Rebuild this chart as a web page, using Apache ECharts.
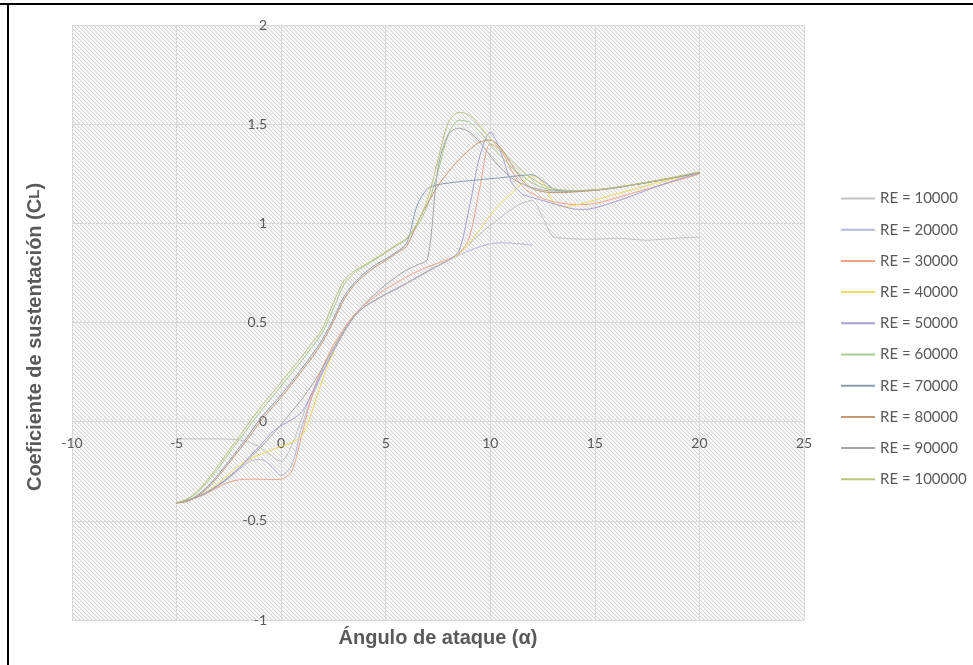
<!DOCTYPE html>
<html><head><meta charset="utf-8">
<script src="https://cdn.jsdelivr.net/npm/echarts@6/dist/echarts.min.js"></script>
<style>html,body{margin:0;padding:0;background:#fff}#c{width:973px;height:665px}</style>
</head><body><div id="c"></div>
<script>
// ---- data ----
const alpha = [-5,-4.5,-4,-3.5,-3,-2.5,-2,-1.5,-1,-0.5,0,0.5,1,1.5,2,2.5,3,3.5,4,4.5,5,5.5,6,6.5,7,7.5,8,8.5,9,9.5,10,10.5,11,11.5,12,12.5,13,13.5,14,14.5,15,15.5,16,16.5,17,17.5,18,18.5,19,19.5,20];
const xTicks = [-10,-5,0,5,10,15,20,25];
const yTicks = [-1,-0.5,0,0.5,1,1.5,2];
const seriesNames = ['RE = 10000','RE = 20000','RE = 30000','RE = 40000','RE = 50000','RE = 60000','RE = 70000','RE = 80000','RE = 90000','RE = 100000'];
const seriesColors = ['#c2c2c2','#b6b8de','#f2a488','#eedc62','#a8a0d6','#aacb90','#8c9db2','#c49672','#a6a6a6','#bcc47e'];

const cl10000 = [-0.085,-0.087,-0.087,-0.087,-0.087,-0.088,-0.092,-0.105,-0.13,-0.17,-0.2,-0.12,0.02,0.15,0.27,0.37,0.46,0.535,0.58,0.615,0.645,0.672,0.70,0.73,0.76,0.788,0.815,0.85,0.895,0.945,0.99,1.03,1.07,1.10,1.115,1.03,0.935,0.925,0.922,0.92,0.92,0.922,0.925,0.922,0.918,0.915,0.918,0.922,0.926,0.928,0.93];
const cl20000 = [-0.41,-0.397,-0.38,-0.355,-0.322,-0.283,-0.24,-0.2,-0.19,-0.22,-0.27,-0.22,-0.02,0.13,0.25,0.355,0.45,0.53,0.58,0.612,0.642,0.668,0.697,0.727,0.757,0.786,0.814,0.84,0.862,0.882,0.898,0.902,0.9,0.896,0.89,null,null,null,null,null,null,null,null,null,null,null,null,null,null,null,null];
const cl30000 = [-0.41,-0.4,-0.382,-0.358,-0.33,-0.305,-0.293,-0.29,-0.29,-0.292,-0.29,-0.25,-0.06,0.14,0.28,0.385,0.47,0.54,0.59,0.632,0.668,0.70,0.73,0.757,0.78,0.80,0.82,0.845,0.93,1.18,1.40,1.37,1.27,1.19,1.15,1.125,1.11,1.10,1.095,1.095,1.10,1.112,1.127,1.143,1.158,1.173,1.188,1.203,1.218,1.233,1.248];
const cl40000 = [-0.41,-0.398,-0.378,-0.35,-0.31,-0.265,-0.22,-0.19,-0.165,-0.145,-0.125,-0.105,-0.07,0.06,0.22,0.35,0.45,0.53,0.58,0.612,0.642,0.668,0.697,0.727,0.757,0.786,0.814,0.845,0.9,0.97,1.04,1.1,1.15,1.2,1.24,1.21,1.11,1.085,1.09,1.103,1.118,1.133,1.148,1.162,1.176,1.19,1.204,1.217,1.23,1.243,1.256];
const cl50000 = [-0.41,-0.396,-0.38,-0.355,-0.322,-0.283,-0.235,-0.175,-0.12,-0.06,-0.02,0.01,0.05,0.15,0.255,0.355,0.45,0.53,0.58,0.612,0.642,0.668,0.697,0.727,0.757,0.786,0.814,0.86,1.08,1.34,1.46,1.36,1.21,1.15,1.13,1.115,1.10,1.085,1.072,1.07,1.078,1.093,1.11,1.128,1.148,1.168,1.187,1.205,1.222,1.238,1.252];
const cl60000 = [-0.41,-0.392,-0.355,-0.3,-0.235,-0.16,-0.09,-0.02,0.05,0.115,0.18,0.245,0.31,0.38,0.455,0.57,0.69,0.75,0.785,0.818,0.852,0.886,0.92,0.985,1.09,1.26,1.45,1.52,1.51,1.46,1.40,1.34,1.285,1.24,1.205,1.18,1.168,1.163,1.163,1.165,1.168,1.173,1.18,1.188,1.197,1.206,1.215,1.225,1.235,1.245,1.255];
const cl70000 = [-0.41,-0.4,-0.37,-0.325,-0.265,-0.2,-0.13,-0.06,0.015,0.075,0.135,0.2,0.27,0.34,0.42,0.52,0.63,0.70,0.75,0.79,0.82,0.855,0.9,1.09,1.175,1.195,1.203,1.21,1.215,1.22,1.225,1.23,1.236,1.241,1.245,1.215,1.175,1.163,1.163,1.165,1.168,1.173,1.18,1.188,1.197,1.206,1.215,1.225,1.235,1.245,1.255];
const cl80000 = [-0.41,-0.402,-0.375,-0.333,-0.275,-0.21,-0.142,-0.073,0.0,0.062,0.122,0.188,0.257,0.327,0.405,0.505,0.615,0.69,0.74,0.78,0.812,0.848,0.885,1.0,1.1,1.19,1.26,1.32,1.37,1.41,1.42,1.38,1.3,1.22,1.175,1.16,1.155,1.155,1.158,1.162,1.166,1.172,1.18,1.188,1.197,1.206,1.215,1.225,1.235,1.245,1.255];
const cl90000 = [-0.41,-0.397,-0.378,-0.352,-0.318,-0.278,-0.232,-0.183,-0.132,-0.075,-0.015,0.05,0.115,0.19,0.275,0.37,0.46,0.535,0.595,0.645,0.69,0.73,0.765,0.79,0.82,1.28,1.45,1.48,1.46,1.41,1.34,1.28,1.23,1.2,1.18,1.168,1.163,1.163,1.163,1.165,1.168,1.173,1.18,1.188,1.197,1.206,1.215,1.225,1.235,1.245,1.255];
const cl100000 = [-0.41,-0.39,-0.35,-0.29,-0.22,-0.145,-0.075,0.0,0.07,0.135,0.2,0.265,0.33,0.4,0.475,0.6,0.71,0.76,0.79,0.823,0.857,0.89,0.925,1.0,1.12,1.32,1.51,1.56,1.545,1.49,1.43,1.37,1.315,1.265,1.225,1.195,1.175,1.168,1.166,1.167,1.17,1.175,1.182,1.19,1.199,1.208,1.217,1.227,1.238,1.249,1.26];

const clSeries = [cl10000,cl20000,cl30000,cl40000,cl50000,cl60000,cl70000,cl80000,cl90000,cl100000];

// ---- hatch pattern ----
function makeHatch(){
  const c = document.createElement('canvas'); c.width = 8; c.height = 8;
  const g = c.getContext('2d'); const im = g.createImageData(8,8);
  for (let y=0;y<8;y++) for (let x=0;x<8;x++){
    const m = ((x - y) % 4 + 4) % 4;
    const v = m===0 ? 212 : (m===1 ? 240 : (m===3 ? 249 : 255));
    const i = (y*8+x)*4; im.data[i]=v; im.data[i+1]=v; im.data[i+2]=v; im.data[i+3]=255;
  }
  g.putImageData(im,0,0); return c;
}

// ---- layout ----
const W = 973, H = 665;
const G = {left:72, right:169, top:25, bottom:45};
const gw = W - G.left - G.right, gh = H - G.top - G.bottom;
const xMin = xTicks[0], xMax = xTicks[xTicks.length-1];
const yMin = yTicks[0], yMax = yTicks[yTicks.length-1];
// move axes so they cross at the origin (Excel style)
const yAxisOffset = -((0 - xMin) / (xMax - xMin)) * gw;
const xAxisOffset = -((0 - yMin) / (yMax - yMin)) * gh;

const chart = echarts.init(document.getElementById('c'), null, {renderer:'canvas'});
const labelFont = 'Lato, "Open Sans", sans-serif';
const option = {
  animation: false,
  backgroundColor: '#ffffff',
  grid: Object.assign({show:true, borderWidth:0, backgroundColor: {image: makeHatch(), repeat: 'repeat'}}, G),
  xAxis: {type:'value', min:xMin, max:xMax, interval:xTicks[1]-xTicks[0], position:'bottom', offset:xAxisOffset,
    axisLine:{show:true, onZero:false, lineStyle:{color:'#d9d9d9', width:1}},
    axisTick:{show:false},
    axisLabel:{color:'#595959', fontSize:14, fontFamily:labelFont, margin:15},
    splitLine:{show:true, lineStyle:{color:'#d9d9d9', width:1}}},
  yAxis: {type:'value', min:yMin, max:yMax, interval:yTicks[1]-yTicks[0], position:'left', offset:yAxisOffset,
    axisLine:{show:true, onZero:false, lineStyle:{color:'#d9d9d9', width:1}},
    axisTick:{show:false},
    axisLabel:{color:'#595959', fontSize:14, fontFamily:labelFont, margin:14},
    splitLine:{show:true, lineStyle:{color:'#d9d9d9', width:1}}},
  legend: {orient:'vertical', left:840, top:191, padding:0, itemWidth:34, itemHeight:14, itemGap:16.2,
    itemStyle:{opacity:0},
    textStyle:{color:'#595959', fontSize:15, fontFamily:labelFont},
    data: seriesNames},
  series: clSeries.map((arr, k) => ({
    name: seriesNames[k], type:'line', symbol:'none', showSymbol:false, smooth:0.3,
    connectNulls:false,
    lineStyle:{color:seriesColors[k], width:1},
    itemStyle:{color:seriesColors[k]},
    data: alpha.map((a,i) => [a, arr[i]])
  })),
  graphic: [
    {type:'rect', shape:{x:0, y:3, width:973, height:2}, style:{fill:'#000'}},
    {type:'rect', shape:{x:7, y:3, width:2, height:662}, style:{fill:'#000'}},
    {type:'text', x:438, y:638, style:{text:'Ángulo de ataque (α)', font:'bold 20px "Liberation Sans", Arial, sans-serif', fill:'#595959', textAlign:'center', textVerticalAlign:'middle'}},
    {type:'text', x:35, y:337, rotation:Math.PI/2,
      style:{text:'Coeficiente de sustentación (C{s|L})', rich:{s:{font:'bold 15px "Liberation Sans", Arial, sans-serif', fill:'#595959'}},
        font:'bold 20px "Liberation Sans", Arial, sans-serif', fill:'#595959', textAlign:'center', textVerticalAlign:'middle'}}
  ]
};
chart.setOption(option);
</script></body></html>
